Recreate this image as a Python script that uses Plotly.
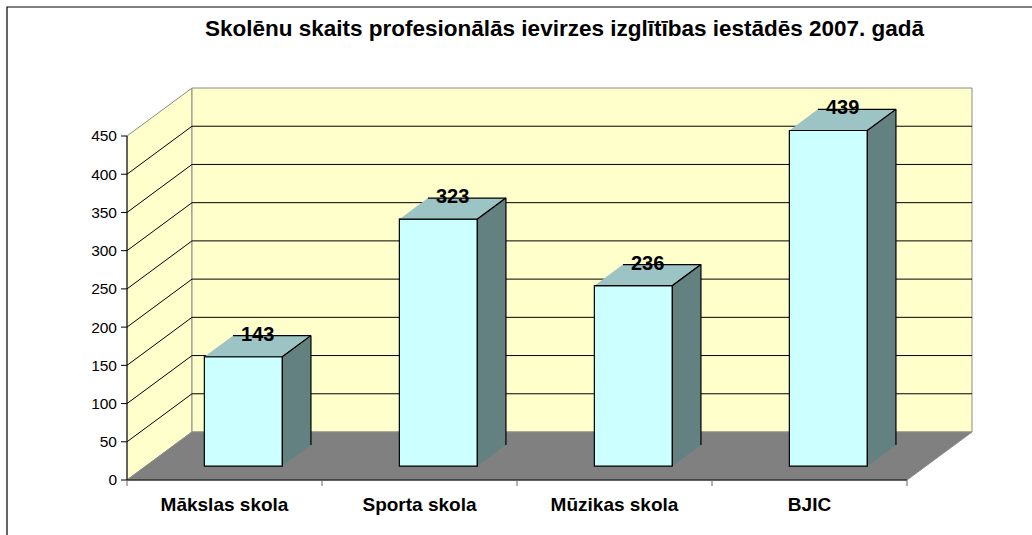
import plotly.graph_objects as go

# ---------------- data ----------------
categories = ["Mākslas skola", "Sporta skola", "Mūzikas skola", "BJIC"]
values = [143, 323, 236, 439]
y_ticks = [0, 50, 100, 150, 200, 250, 300, 350, 400, 450]
title_text = "Skolēnu skaits profesionālās ievirzes izglītības iestādēs 2007. gadā"

# ---------------- geometry / style ----------------
W, H = 1032, 535
Y_MAX = 450
PX_CAT = 195.0                 # pixels per category on the front plane
PX_Y = 344.0 / Y_MAX           # pixels per value unit
DEPTH_PX_X, DEPTH_PX_Y = 65.0, 48.0
DX = DEPTH_PX_X / PX_CAT       # depth shift in category units
DY = DEPTH_PX_Y / PX_Y         # depth shift in value units
D_FRONT, D_BACK = 0.29, 0.73   # bar depth span
HALF_W = 0.2
PAD_L, PAD_B, PAD_T, PAD_R = 6, 6, 3, 3
FRONT_LEFT_PX, FRONT_BOTTOM_PX = 127, 480

WALL = "#FFFFCC"
FLOOR = "#808080"
EDGE = "#8A8A8A"
BAR_FRONT = "#CCFFFF"
BAR_TOP = "#9CC4C4"
BAR_SIDE = "#638181"
FONT = "Liberation Sans, Arial, sans-serif"

n = len(categories)
x_lo = -0.5 - PAD_L / PX_CAT
x_hi = n - 0.5 + DX + PAD_R / PX_CAT
y_lo = -PAD_B / PX_Y
y_hi = Y_MAX + DY + PAD_T / PX_Y

plot_left = FRONT_LEFT_PX - PAD_L
plot_bottom = FRONT_BOTTOM_PX + PAD_B
plot_w = (x_hi - x_lo) * PX_CAT
plot_h = (y_hi - y_lo) * PX_Y
plot_right = plot_left + plot_w
plot_top = plot_bottom - plot_h


def proj(x, y, d):
    return x + d * DX, y + d * DY


def path(pts, close=True):
    s = ""
    for k, (x, y, d) in enumerate(pts):
        px, py = proj(x, y, d)
        s += ("M" if k == 0 else " L") + f" {px:.6f},{py:.6f}"
    return s + (" Z" if close else "")


shapes = []
L, R = -0.5, n - 0.5
# side wall
shapes.append(dict(type="path", path=path([(L, 0, 0), (L, Y_MAX, 0), (L, Y_MAX, 1), (L, 0, 1)]),
                   fillcolor=WALL, line=dict(color=EDGE, width=1), layer="below"))
# back wall
shapes.append(dict(type="path", path=path([(L, 0, 1), (R, 0, 1), (R, Y_MAX, 1), (L, Y_MAX, 1)]),
                   fillcolor=WALL, line=dict(color=EDGE, width=1), layer="below"))
# gridlines
for v in y_ticks[1:-1]:
    shapes.append(dict(type="path", path=path([(L, v, 0), (L, v, 1), (R, v, 1)], close=False),
                       line=dict(color="black", width=1), layer="below"))
# floor
shapes.append(dict(type="path", path=path([(L, 0, 0), (R, 0, 0), (R, 0, 1), (L, 0, 1)]),
                   fillcolor=FLOOR, line=dict(color=EDGE, width=1), layer="below"))
# axis lines
shapes.append(dict(type="path", path=path([(L, Y_MAX, 0), (L, 0, 0), (R, 0, 0)], close=False),
                   line=dict(color="black", width=1), layer="below"))
# y ticks
for v in y_ticks:
    shapes.append(dict(type="line", x0=x_lo, x1=L, y0=v, y1=v,
                       line=dict(color="black", width=1), layer="below"))
# x ticks (category boundaries)
for k in range(n + 1):
    shapes.append(dict(type="line", x0=L + k, x1=L + k, y0=0, y1=y_lo,
                       line=dict(color="#666666", width=1), layer="below"))
# chart-area border (left and top)
bx = (7 - plot_left) / plot_w
by = (plot_bottom - 7) / plot_h
shapes.append(dict(type="path", xref="paper", yref="paper",
                   path=f"M {bx},-1 L {bx},{by} L 2,{by}",
                   line=dict(color="black", width=1.2)))

fig = go.Figure()

# bar front faces
fig.add_trace(go.Bar(
    x=[i + D_FRONT * DX for i in range(n)], y=values, base=D_FRONT * DY,
    width=2 * HALF_W, marker=dict(color=BAR_FRONT, line=dict(color="black", width=1.2)),
    hoverinfo="skip", showlegend=False))

# top faces and side faces
tx, ty, sx, sy = [], [], [], []
for i, v in enumerate(values):
    for (x, y, d) in [(i - HALF_W, v, D_FRONT), (i + HALF_W, v, D_FRONT),
                      (i + HALF_W, v, D_BACK), (i - HALF_W, v, D_BACK)]:
        px, py = proj(x, y, d)
        tx.append(px); ty.append(py)
    tx.append(None); ty.append(None)
    for (x, y, d) in [(i + HALF_W, 0, D_FRONT), (i + HALF_W, v, D_FRONT),
                      (i + HALF_W, v, D_BACK), (i + HALF_W, 0, D_BACK)]:
        px, py = proj(x, y, d)
        sx.append(px); sy.append(py)
    sx.append(None); sy.append(None)

fig.add_trace(go.Scatter(x=tx, y=ty, mode="lines", fill="toself", fillcolor=BAR_TOP,
                         line=dict(color="black", width=1.2), hoverinfo="skip", showlegend=False))
fig.add_trace(go.Scatter(x=sx, y=sy, mode="lines", fill="toself", fillcolor=BAR_SIDE,
                         line=dict(color="black", width=1.2), hoverinfo="skip", showlegend=False))

# value labels
lx = [i + (D_FRONT + D_BACK) / 2 * DX for i in range(n)]
ly = [v + D_BACK * DY for v in values]
fig.add_trace(go.Scatter(x=lx, y=ly, mode="text", text=[f"<b>{v}</b>" for v in values],
                         textposition="middle center", cliponaxis=False,
                         textfont=dict(family=FONT, size=20, color="black"),
                         hoverinfo="skip", showlegend=False))

fig.update_layout(
    width=W, height=H,
    margin=dict(l=plot_left, r=W - plot_right, t=plot_top, b=H - plot_bottom, pad=0),
    paper_bgcolor="white", plot_bgcolor="white",
    shapes=shapes,
    showlegend=False,
    xaxis=dict(type="linear", range=[x_lo, x_hi], tickvals=list(range(n)),
               ticktext=[f"<b>{c}</b>" for c in categories], ticks="",
               tickfont=dict(family=FONT, size=19, color="black"),
               showgrid=False, zeroline=False, showline=False, fixedrange=True,
               ticklabelstandoff=5),
    yaxis=dict(range=[y_lo, y_hi], tickvals=y_ticks, ticks="",
               tickfont=dict(family=FONT, size=15.5, color="black"),
               showgrid=False, zeroline=False, showline=False, fixedrange=True,
               ticklabelstandoff=3),
    annotations=[dict(text=f"<b>{title_text}</b>", xref="paper", yref="paper",
                      x=(564.5 - plot_left) / plot_w, y=(plot_bottom - 28) / plot_h,
                      xanchor="center", yanchor="middle", showarrow=False,
                      font=dict(family=FONT, size=22.5, color="black"))],
)

fig.write_html("out.html", config={"displayModeBar": False},
               post_script="document.body.style.margin='0';")
